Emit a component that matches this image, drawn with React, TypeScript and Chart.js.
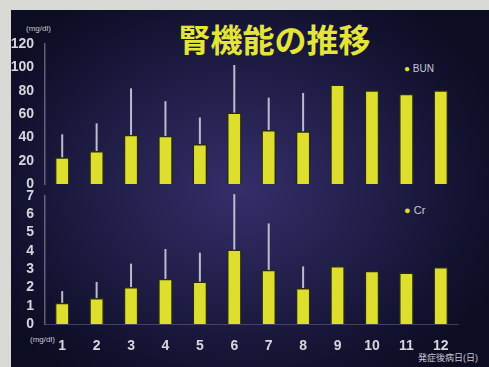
import React, { useEffect, useRef } from "react";
import { Chart, registerables } from "chart.js";
Chart.register(...registerables);

const titleText = "腎機能の推移";
const days = ["1", "2", "3", "4", "5", "6", "7", "8", "9", "10", "11", "12"];
const bunMean = [22.6, 28, 42, 41, 34, 61, 46, 45, 85, 80, 77, 80];
const bunUpper = [42.6, 52, 82, 71, 57, 102, 74, 78, null, null, null, null];
const crMean = [1.15, 1.4, 2.0, 2.45, 2.3, 4.05, 2.95, 1.95, 3.15, 2.9, 2.8, 3.1];
const crUpper = [1.8, 2.3, 3.3, 4.1, 3.9, 7.1, 5.5, 3.15, null, null, null, null];
const bunAxis = { min: 0, max: 120, step: 20 };
const crAxis = { min: 0, max: 7, step: 1 };
const unitLabel = "(mg/dl)";
const xAxisLabel = "発症後病日(日)";

const BAR = "#dede2e";
const TICK = "#d6d6dc";

const errorBarPlugin = (uppers: (number | null)[]) => ({
  id: "errbars",
  beforeDatasetsDraw(chart: any) {
    const ctx = chart.ctx;
    const meta = chart.getDatasetMeta(0);
    const y = chart.scales.y;
    const vals = chart.data.datasets[0].data as number[];
    ctx.save();
    ctx.strokeStyle = "rgba(205,205,220,0.9)";
    ctx.lineWidth = 2;
    meta.data.forEach((el: any, i: number) => {
      const u = uppers[i];
      if (u == null) return;
      ctx.beginPath();
      ctx.moveTo(el.x, y.getPixelForValue(vals[i]));
      ctx.lineTo(el.x, y.getPixelForValue(u));
      ctx.stroke();
    });
    ctx.restore();
  },
});

function makeChart(
  canvas: HTMLCanvasElement,
  values: number[],
  uppers: (number | null)[],
  axis: { min: number; max: number; step: number },
  top: number,
  bottom: number,
  showX: boolean
) {
  const H = 367;
  const xH = 30;
  return new Chart(canvas, {
    type: "bar",
    data: {
      labels: days,
      datasets: [
        {
          data: values,
          backgroundColor: BAR,
          borderColor: "#2a2a10",
          borderWidth: 1.5,
          barThickness: 14,
        },
      ],
    },
    options: {
      animation: false,
      responsive: false,
      maintainAspectRatio: false,
      layout: {
        padding: {
          left: 5,
          right: 489 - 458,
          top: top,
          bottom: showX ? H - bottom - xH : H - bottom,
        },
      },
      plugins: { legend: { display: false }, tooltip: { enabled: false } },
      scales: {
        x: {
          display: showX,
          grid: { display: false, drawTicks: false },
          border: { display: true, color: "rgba(150,150,190,0.35)" },
          ticks: {
            color: TICK,
            padding: 14,
            autoSkip: false,
            maxRotation: 0,
            font: { family: "Liberation Sans", size: 14, weight: "bold" },
          },
          afterFit: (s: any) => {
            s.height = showX ? xH : 0;
          },
        },
        y: {
          min: axis.min,
          max: axis.max,
          grid: { display: false, drawTicks: false },
          border: { display: true, color: "rgba(190,190,215,0.45)", width: 1.5 },
          ticks: {
            stepSize: axis.step,
            autoSkip: false,
            color: TICK,
            padding: 11,
            font: { family: "Liberation Sans", size: 14, weight: "bold" },
          },
          afterFit: (s: any) => {
            s.width = 40;
          },
        },
      },
    },
    plugins: [errorBarPlugin(uppers)],
  } as any);
}

export default function App() {
  const topRef = useRef<HTMLCanvasElement>(null);
  const botRef = useRef<HTMLCanvasElement>(null);

  useEffect(() => {
    const c1 = makeChart(topRef.current!, bunMean, bunUpper, bunAxis, 44, 184, false);
    const c2 = makeChart(botRef.current!, crMean, crUpper, crAxis, 196, 324, true);
    return () => {
      c1.destroy();
      c2.destroy();
    };
  }, []);

  const abs: React.CSSProperties = { position: "absolute" };
  const small: React.CSSProperties = {
    ...abs,
    fontFamily: "Liberation Sans, Noto Sans CJK JP, sans-serif",
    color: "#c8c8d4",
    whiteSpace: "nowrap",
  };

  return (
    <div
      style={{
        position: "fixed",
        left: 0,
        top: 0,
        width: 489,
        height: 367,
        background: "#d9d9d6",
        overflow: "hidden",
      }}
    >
      <div
        style={{
          ...abs,
          left: 11,
          top: 10,
          width: 478,
          height: 357,
          background:
            "radial-gradient(ellipse 60% 65% at 48% 50%, #342e6a 0%, #221f4a 45%, #121230 80%, #0c0c22 100%)",
        }}
      />
      <div
        style={{
          ...abs,
          left: 0,
          width: 489,
          top: 16,
          textAlign: "center",
          paddingLeft: 60,
          boxSizing: "border-box",
          fontFamily: "Noto Sans CJK JP, sans-serif",
          fontWeight: 700,
          fontSize: 32,
          lineHeight: "44px",
          color: "#e4e43a",
        }}
      >
        {titleText}
      </div>
      <div style={{ ...small, left: 26, top: 24, fontSize: 8 }}>{unitLabel}</div>
      <div style={{ ...small, left: 30, top: 335, fontSize: 8 }}>{unitLabel}</div>
      <div style={{ ...small, left: 404, top: 63, fontSize: 10 }}>
        <span style={{ color: BAR }}>●</span> BUN
      </div>
      <div style={{ ...small, left: 404, top: 204, fontSize: 11 }}>
        <span style={{ color: BAR }}>●</span> Cr
      </div>
      <div style={{ ...small, left: 418, top: 351, fontSize: 9 }}>{xAxisLabel}</div>
      <canvas ref={topRef} width={489} height={367} style={{ ...abs, left: 0, top: 0 }} />
      <canvas ref={botRef} width={489} height={367} style={{ ...abs, left: 0, top: 0 }} />
    </div>
  );
}
